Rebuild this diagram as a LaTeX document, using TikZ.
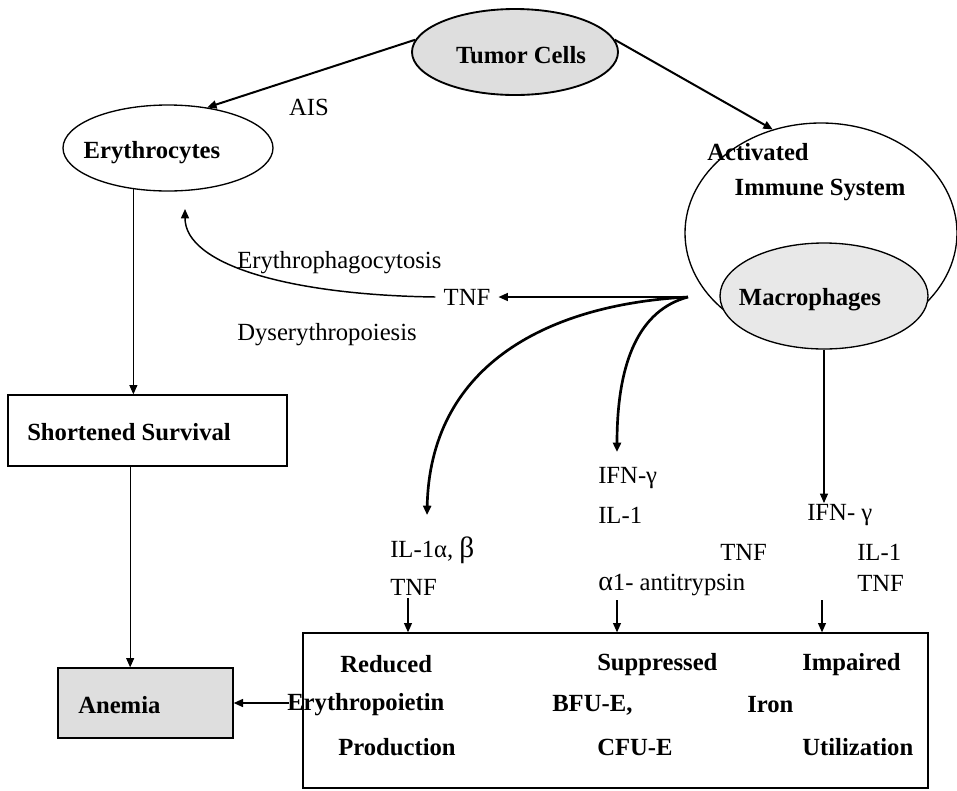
\documentclass[tikz,border=0pt]{standalone}
\usepackage{fontspec}
\setmainfont{Liberation Serif}
\usetikzlibrary{shapes.geometric,arrows.meta}
\begin{document}
\begin{tikzpicture}[x=0.75pt,y=-0.75pt,
 txt/.style={font=\fontsize{18.5}{20}\selectfont, inner sep=0pt},
 btxt/.style={font=\fontsize{18.5}{20}\selectfont\bfseries, inner sep=0pt},
 oval/.style={ellipse, draw, line width=1pt, inner sep=0pt},
 rbox/.style={rectangle, draw, line width=1pt, inner sep=0pt},
 grayfill/.style={fill=black!13},
 tipped/.style={-{Triangle[length=7pt,width=6pt]}},
 lightarrow/.style={tipped, line width=0.8pt},
 midarrow/.style={tipped, line width=1.1pt},
 heavyarrow/.style={tipped, line width=1.5pt},
 curvearrow/.style={tipped, line width=2pt},
]
\useasboundingbox (0,0) rectangle (957,790);

% ellipses
\node[oval, grayfill, line width=1.4pt, minimum width=154.5pt, minimum height=64.5pt] (tumor) at (515,52) {};
\node[btxt] (tumortxt) at (521,55) {Tumor Cells};
\node[oval, minimum width=157.5pt, minimum height=64.5pt] (ery) at (168,148) {};
\node[btxt] (erytxt) at (152,153) {Erythrocytes};
\node[oval, minimum width=204pt, minimum height=165pt] (act) at (821,233) {};
\node[oval, fill=black!9, minimum width=156pt, minimum height=79.5pt] (macro) at (824,296) {};
\node[btxt] (acttxt) at (758,152) {Activated};
\node[btxt] (immtxt) at (820,190) {Immune System};
\node[btxt] (macrotxt) at (810,300) {Macrophages};

% boxes
\node[rbox, minimum width=209.25pt, minimum height=53.25pt] (short) at (147.5,430.5) {};
\node[btxt, anchor=west] (shorttxt) at (27,432) {Shortened Survival};
\node[rbox, grayfill, minimum width=131.25pt, minimum height=52.5pt] (anemia) at (145.5,703) {};
\node[btxt, anchor=west] (anemiatxt) at (78,705) {Anemia};
\node[rbox, minimum width=468.75pt, minimum height=116.25pt] (effects) at (615.5,710.5) {};

% box contents
\node[btxt, anchor=west] (r1) at (340,664) {Reduced};
\node[btxt, anchor=west] (r2) at (287,705) {Erythropoietin};
\node[btxt, anchor=west] (r3) at (338,747) {Production};
\node[btxt, anchor=west] (s1) at (597,665) {Suppressed};
\node[btxt, anchor=west] (s2) at (552,705) {BFU-E,};
\node[btxt, anchor=west] (s3) at (597,747) {CFU-E};
\node[btxt, anchor=west] (i1) at (802,665) {Impaired};
\node[btxt, anchor=west] (i2) at (747,705) {Iron};
\node[btxt, anchor=west] (i3) at (802,747) {Utilization};

% plain labels
\node[txt] (ais) at (309,107) {AIS};
\node[txt, anchor=west] (ephago) at (237,263) {Erythrophagocytosis};
\node[txt, anchor=west] (dyser) at (237,335) {Dyserythropoiesis};
\node[txt, inner sep=6pt] (tnf) at (467,297) {TNF};

\node[txt, anchor=west] (a1) at (390,550) {IL-1α, \fontsize{22}{22}\selectfont β};
\node[txt, anchor=west] (a2) at (390,587) {TNF};
\node[txt, anchor=west] (b1) at (598,478) {IFN-γ};
\node[txt, anchor=west] (b2) at (598,515) {IL-1};
\node[txt, anchor=west] (b3) at (720,552) {TNF};
\node[txt, anchor=west] (b4) at (598,585) {{\fontsize{21}{21}\selectfont α}1- antitrypsin};
\node[txt, anchor=west] (c1) at (807,515) {IFN- γ};
\node[txt, anchor=west] (c2) at (857,552) {IL-1};
\node[txt, anchor=west] (c3) at (857,583) {TNF};

% connector points
\coordinate (src) at (688,297);
\coordinate (eryin) at (185,209);
\coordinate (t1) at (427,515);
\coordinate (t2) at (617,452);
\coordinate (t3) at (824,503);
\coordinate (d1) at (408,598);
\coordinate (d2) at (617,600);
\coordinate (d3) at (822,600);

% connectors
\draw[heavyarrow] (tumor.173) -- (ery.46);
\draw[heavyarrow] (tumor.7) -- (act.115);
\draw[lightarrow] (ery.230) -- (ery.230 |- short.north);
\draw[lightarrow] ([xshift=-13pt]short.south) -- ([xshift=-13pt]short.south |- anemia.north);
\draw[midarrow] (src) -- (tnf.east);
\draw[midarrow] (tnf.west) .. controls (290,295) and (185,265) .. (eryin);
\draw[curvearrow] (src) .. controls (540,305) and (430,370) .. (t1);
\draw[curvearrow] (src) .. controls (640,310) and (617,360) .. (t2);
\draw[lightarrow] (macro.south) -- (t3);
\draw[lightarrow] (d1) -- (d1 |- effects.north);
\draw[lightarrow] (d2) -- (d2 |- effects.north);
\draw[lightarrow] (d3) -- (d3 |- effects.north);
\draw[midarrow] ([xshift=-10pt]effects.west |- anemia.east) -- (anemia.east);
\end{tikzpicture}
\end{document}
